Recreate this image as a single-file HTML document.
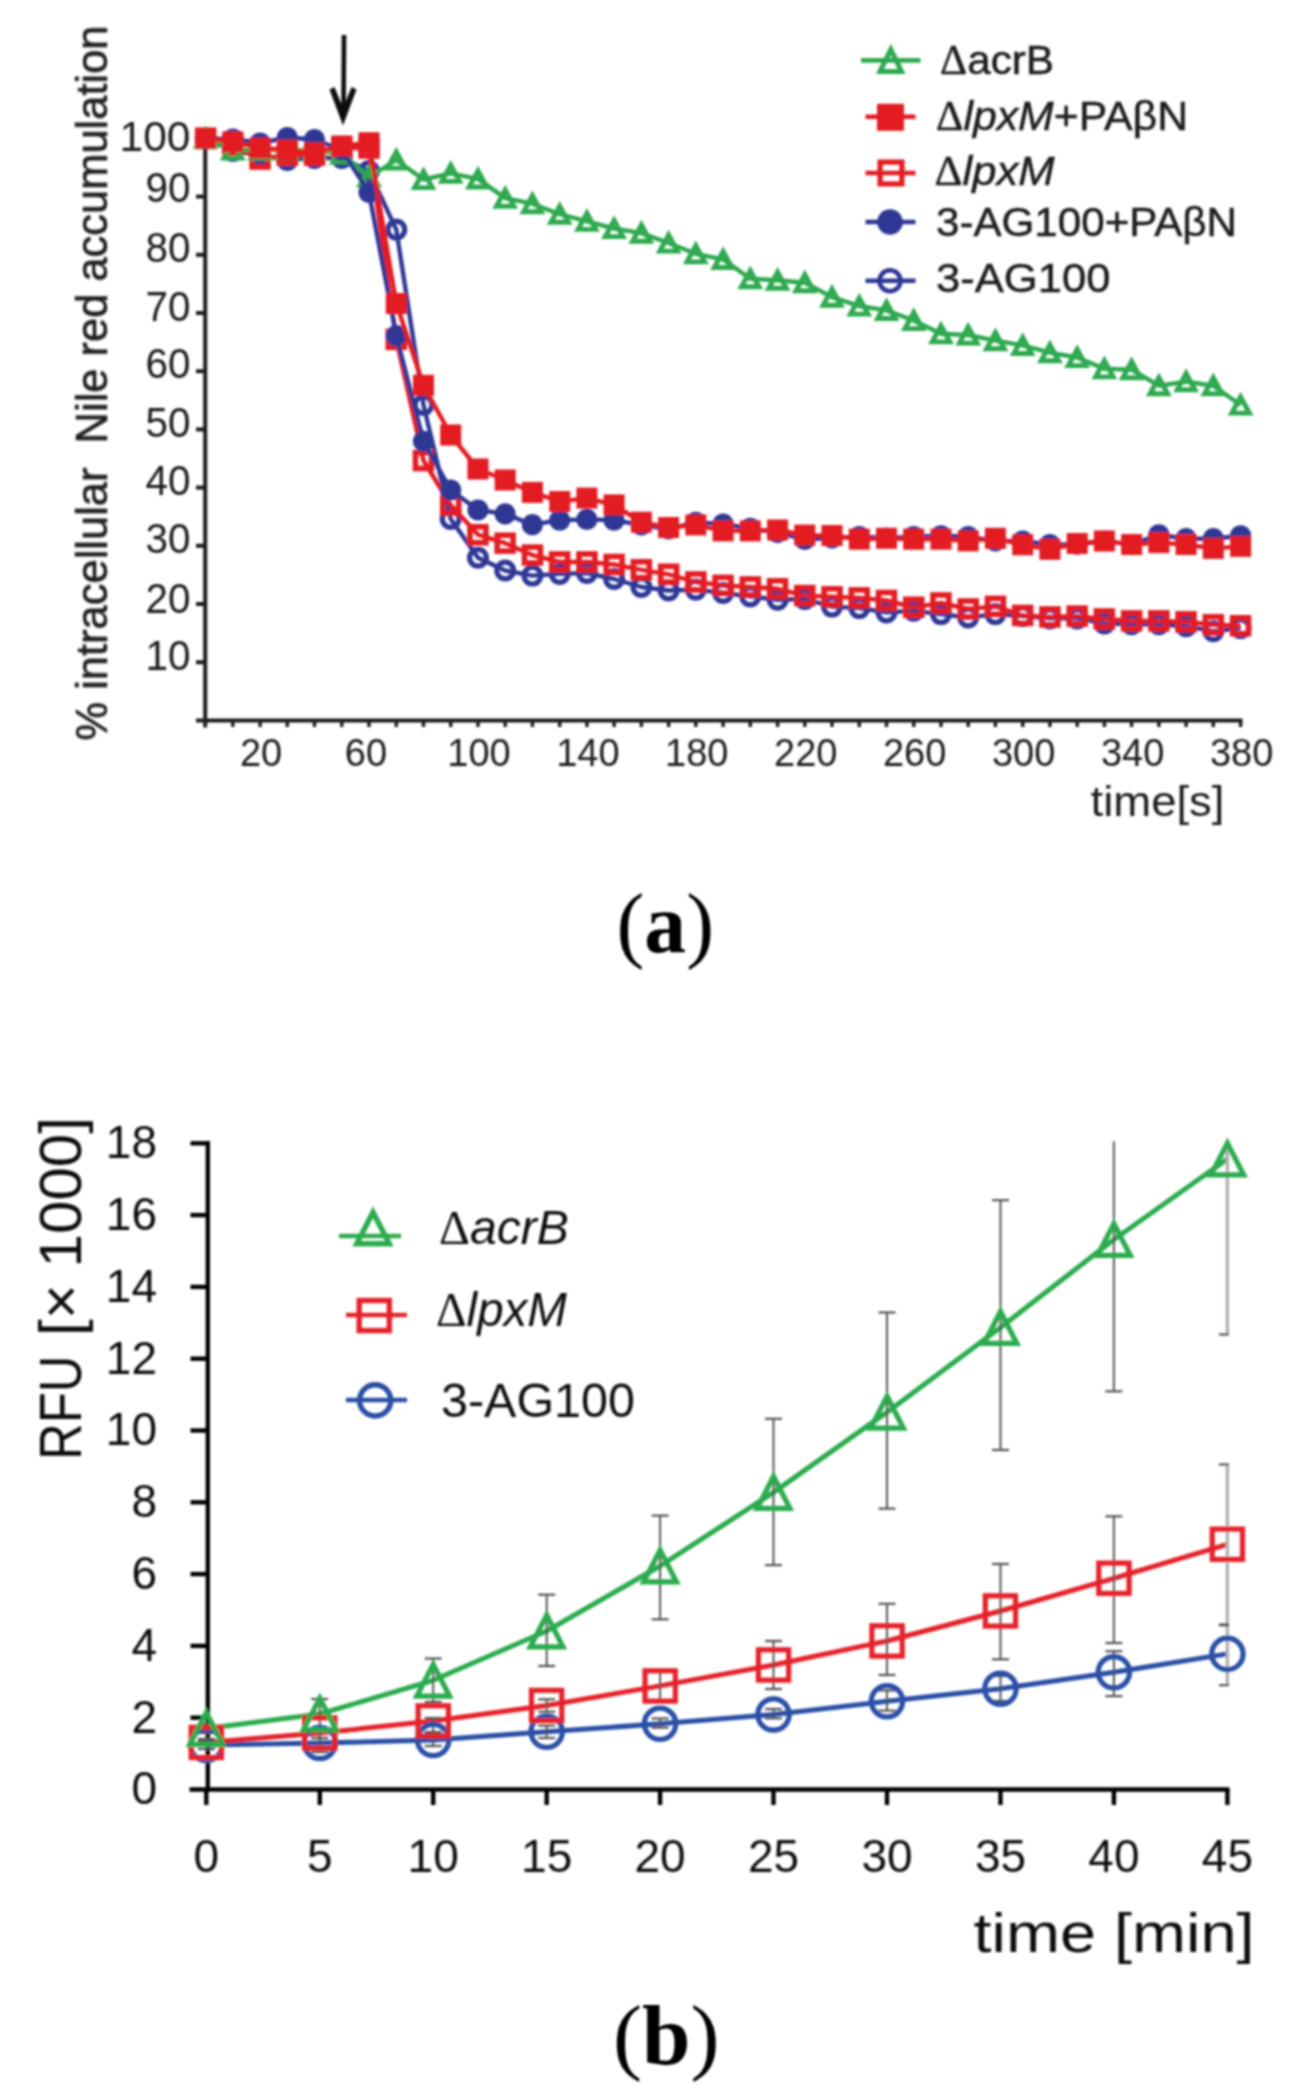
<!DOCTYPE html><html><head><meta charset="utf-8"><style>html,body{margin:0;padding:0;background:#fff;overflow:hidden;}svg{display:block;}</style></head><body>
<svg width="1292" height="2096" viewBox="0 0 1292 2096">
<defs><filter id="bl" x="-2%" y="-2%" width="104%" height="104%"><feGaussianBlur stdDeviation="0.9"/></filter></defs>
<rect width="1292" height="2096" fill="#fff"/>
<g filter="url(#bl)">
<g stroke="#1e1e1e" stroke-width="4" fill="none" stroke-linecap="butt">
<line x1="205.2" y1="136" x2="205.2" y2="727.5"/>
<line x1="196" y1="720.4" x2="1242.4" y2="720.4"/>
<line x1="196" y1="662.2" x2="205" y2="662.2"/>
<line x1="196" y1="604" x2="205" y2="604"/>
<line x1="196" y1="545.8" x2="205" y2="545.8"/>
<line x1="196" y1="487.6" x2="205" y2="487.6"/>
<line x1="196" y1="429.4" x2="205" y2="429.4"/>
<line x1="196" y1="371.2" x2="205" y2="371.2"/>
<line x1="196" y1="313" x2="205" y2="313"/>
<line x1="196" y1="254.8" x2="205" y2="254.8"/>
<line x1="196" y1="196.6" x2="205" y2="196.6"/>
<line x1="196" y1="138.4" x2="205" y2="138.4"/>
<line x1="232.8" y1="720" x2="232.8" y2="727" stroke-width="3.4"/>
<line x1="260.1" y1="720" x2="260.1" y2="727" stroke-width="3.4"/>
<line x1="287.3" y1="720" x2="287.3" y2="727" stroke-width="3.4"/>
<line x1="314.5" y1="720" x2="314.5" y2="727" stroke-width="3.4"/>
<line x1="341.8" y1="720" x2="341.8" y2="727" stroke-width="3.4"/>
<line x1="369" y1="720" x2="369" y2="727" stroke-width="3.4"/>
<line x1="396.3" y1="720" x2="396.3" y2="727" stroke-width="3.4"/>
<line x1="423.5" y1="720" x2="423.5" y2="727" stroke-width="3.4"/>
<line x1="450.7" y1="720" x2="450.7" y2="727" stroke-width="3.4"/>
<line x1="478" y1="720" x2="478" y2="727" stroke-width="3.4"/>
<line x1="505.2" y1="720" x2="505.2" y2="727" stroke-width="3.4"/>
<line x1="532.4" y1="720" x2="532.4" y2="727" stroke-width="3.4"/>
<line x1="559.7" y1="720" x2="559.7" y2="727" stroke-width="3.4"/>
<line x1="586.9" y1="720" x2="586.9" y2="727" stroke-width="3.4"/>
<line x1="614.1" y1="720" x2="614.1" y2="727" stroke-width="3.4"/>
<line x1="641.4" y1="720" x2="641.4" y2="727" stroke-width="3.4"/>
<line x1="668.6" y1="720" x2="668.6" y2="727" stroke-width="3.4"/>
<line x1="695.8" y1="720" x2="695.8" y2="727" stroke-width="3.4"/>
<line x1="723.1" y1="720" x2="723.1" y2="727" stroke-width="3.4"/>
<line x1="750.3" y1="720" x2="750.3" y2="727" stroke-width="3.4"/>
<line x1="777.6" y1="720" x2="777.6" y2="727" stroke-width="3.4"/>
<line x1="804.8" y1="720" x2="804.8" y2="727" stroke-width="3.4"/>
<line x1="832" y1="720" x2="832" y2="727" stroke-width="3.4"/>
<line x1="859.3" y1="720" x2="859.3" y2="727" stroke-width="3.4"/>
<line x1="886.5" y1="720" x2="886.5" y2="727" stroke-width="3.4"/>
<line x1="913.7" y1="720" x2="913.7" y2="727" stroke-width="3.4"/>
<line x1="941" y1="720" x2="941" y2="727" stroke-width="3.4"/>
<line x1="968.2" y1="720" x2="968.2" y2="727" stroke-width="3.4"/>
<line x1="995.4" y1="720" x2="995.4" y2="727" stroke-width="3.4"/>
<line x1="1022.7" y1="720" x2="1022.7" y2="727" stroke-width="3.4"/>
<line x1="1049.9" y1="720" x2="1049.9" y2="727" stroke-width="3.4"/>
<line x1="1077.2" y1="720" x2="1077.2" y2="727" stroke-width="3.4"/>
<line x1="1104.4" y1="720" x2="1104.4" y2="727" stroke-width="3.4"/>
<line x1="1131.6" y1="720" x2="1131.6" y2="727" stroke-width="3.4"/>
<line x1="1158.9" y1="720" x2="1158.9" y2="727" stroke-width="3.4"/>
<line x1="1186.1" y1="720" x2="1186.1" y2="727" stroke-width="3.4"/>
<line x1="1213.3" y1="720" x2="1213.3" y2="727" stroke-width="3.4"/>
<line x1="1240.6" y1="720" x2="1240.6" y2="727" stroke-width="3.4"/>
</g>
<text x="190.5" y="670.2" font-family='"Liberation Sans", sans-serif' font-size="42.5" text-anchor="end" fill="#1e1e1e" textLength="45" lengthAdjust="spacingAndGlyphs">10</text>
<text x="190.5" y="612.7" font-family='"Liberation Sans", sans-serif' font-size="42.5" text-anchor="end" fill="#1e1e1e" textLength="45" lengthAdjust="spacingAndGlyphs">20</text>
<text x="190.5" y="552.8" font-family='"Liberation Sans", sans-serif' font-size="42.5" text-anchor="end" fill="#1e1e1e" textLength="45" lengthAdjust="spacingAndGlyphs">30</text>
<text x="190.5" y="495.3" font-family='"Liberation Sans", sans-serif' font-size="42.5" text-anchor="end" fill="#1e1e1e" textLength="45" lengthAdjust="spacingAndGlyphs">40</text>
<text x="190.5" y="436.5" font-family='"Liberation Sans", sans-serif' font-size="42.5" text-anchor="end" fill="#1e1e1e" textLength="45" lengthAdjust="spacingAndGlyphs">50</text>
<text x="190.5" y="378" font-family='"Liberation Sans", sans-serif' font-size="42.5" text-anchor="end" fill="#1e1e1e" textLength="45" lengthAdjust="spacingAndGlyphs">60</text>
<text x="190.5" y="320.5" font-family='"Liberation Sans", sans-serif' font-size="42.5" text-anchor="end" fill="#1e1e1e" textLength="45" lengthAdjust="spacingAndGlyphs">70</text>
<text x="190.5" y="261.8" font-family='"Liberation Sans", sans-serif' font-size="42.5" text-anchor="end" fill="#1e1e1e" textLength="45" lengthAdjust="spacingAndGlyphs">80</text>
<text x="190.5" y="202.3" font-family='"Liberation Sans", sans-serif' font-size="42.5" text-anchor="end" fill="#1e1e1e" textLength="45" lengthAdjust="spacingAndGlyphs">90</text>
<text x="190.5" y="151.3" font-family='"Liberation Sans", sans-serif' font-size="42.5" text-anchor="end" fill="#1e1e1e" textLength="71" lengthAdjust="spacingAndGlyphs">100</text>
<text x="261.1" y="766" font-family='"Liberation Sans", sans-serif' font-size="38" text-anchor="middle" fill="#1e1e1e" >20</text>
<text x="366" y="766" font-family='"Liberation Sans", sans-serif' font-size="38" text-anchor="middle" fill="#1e1e1e" >60</text>
<text x="479" y="766" font-family='"Liberation Sans", sans-serif' font-size="38" text-anchor="middle" fill="#1e1e1e" >100</text>
<text x="587.9" y="766" font-family='"Liberation Sans", sans-serif' font-size="38" text-anchor="middle" fill="#1e1e1e" >140</text>
<text x="696.8" y="766" font-family='"Liberation Sans", sans-serif' font-size="38" text-anchor="middle" fill="#1e1e1e" >180</text>
<text x="805.8" y="766" font-family='"Liberation Sans", sans-serif' font-size="38" text-anchor="middle" fill="#1e1e1e" >220</text>
<text x="914.7" y="766" font-family='"Liberation Sans", sans-serif' font-size="38" text-anchor="middle" fill="#1e1e1e" >260</text>
<text x="1023.7" y="766" font-family='"Liberation Sans", sans-serif' font-size="38" text-anchor="middle" fill="#1e1e1e" >300</text>
<text x="1132.6" y="766" font-family='"Liberation Sans", sans-serif' font-size="38" text-anchor="middle" fill="#1e1e1e" >340</text>
<text x="1241.6" y="766" font-family='"Liberation Sans", sans-serif' font-size="38" text-anchor="middle" fill="#1e1e1e" >380</text>
<text x="1090.5" y="816" font-family='"Liberation Sans", sans-serif' font-size="42" text-anchor="start" fill="#1e1e1e" textLength="134" lengthAdjust="spacingAndGlyphs">time[s]</text>
<text transform="translate(107,740.5) rotate(-90)" font-family='"Liberation Sans", sans-serif' font-size="44" fill="#1e1e1e" stroke="#1e1e1e" stroke-width="0.6" textLength="715" lengthAdjust="spacingAndGlyphs">% intracellular&#160; Nile red accumulation</text>
<line x1="344" y1="35" x2="343.5" y2="112" stroke="#111" stroke-width="4.6"/>
<path d="M329.5 89.5 L334.5 87 L343 108 L351.5 87 L356.5 89.5 L343 125.5 Z" fill="#111"/>
<polyline points="205.6,138.5 232.8,151 260.1,155 287.3,160 314.5,158 341.8,158 369,171 396.3,229.6 423.5,405 450.7,518.9 478,557.7 505.2,570.5 532.4,575.6 559.7,573.9 586.9,573 614.1,579 641.4,587 668.6,590.5 695.8,589.6 723.1,593 750.3,596.4 777.6,599.8 804.8,599 832,606.6 859.3,608.1 886.5,612.4 913.7,610.7 941,614.1 968.2,617.5 995.4,614.1 1022.7,616.1 1049.9,618.4 1077.2,618.4 1104.4,623.4 1131.6,624.2 1158.9,624.2 1186.1,626.2 1213.3,631.2 1240.6,628.1" fill="none" stroke="#2d3894" stroke-width="4.4" stroke-linejoin="round"/>
<circle cx="205.6" cy="138.5" r="8.4" fill="none" stroke="#2d3894" stroke-width="5.2"/>
<circle cx="232.8" cy="151" r="8.4" fill="none" stroke="#2d3894" stroke-width="5.2"/>
<circle cx="260.1" cy="155" r="8.4" fill="none" stroke="#2d3894" stroke-width="5.2"/>
<circle cx="287.3" cy="160" r="8.4" fill="none" stroke="#2d3894" stroke-width="5.2"/>
<circle cx="314.5" cy="158" r="8.4" fill="none" stroke="#2d3894" stroke-width="5.2"/>
<circle cx="341.8" cy="158" r="8.4" fill="none" stroke="#2d3894" stroke-width="5.2"/>
<circle cx="369" cy="171" r="8.4" fill="none" stroke="#2d3894" stroke-width="5.2"/>
<circle cx="396.3" cy="229.6" r="8.4" fill="none" stroke="#2d3894" stroke-width="5.2"/>
<circle cx="423.5" cy="405" r="8.4" fill="none" stroke="#2d3894" stroke-width="5.2"/>
<circle cx="450.7" cy="518.9" r="8.4" fill="none" stroke="#2d3894" stroke-width="5.2"/>
<circle cx="478" cy="557.7" r="8.4" fill="none" stroke="#2d3894" stroke-width="5.2"/>
<circle cx="505.2" cy="570.5" r="8.4" fill="none" stroke="#2d3894" stroke-width="5.2"/>
<circle cx="532.4" cy="575.6" r="8.4" fill="none" stroke="#2d3894" stroke-width="5.2"/>
<circle cx="559.7" cy="573.9" r="8.4" fill="none" stroke="#2d3894" stroke-width="5.2"/>
<circle cx="586.9" cy="573" r="8.4" fill="none" stroke="#2d3894" stroke-width="5.2"/>
<circle cx="614.1" cy="579" r="8.4" fill="none" stroke="#2d3894" stroke-width="5.2"/>
<circle cx="641.4" cy="587" r="8.4" fill="none" stroke="#2d3894" stroke-width="5.2"/>
<circle cx="668.6" cy="590.5" r="8.4" fill="none" stroke="#2d3894" stroke-width="5.2"/>
<circle cx="695.8" cy="589.6" r="8.4" fill="none" stroke="#2d3894" stroke-width="5.2"/>
<circle cx="723.1" cy="593" r="8.4" fill="none" stroke="#2d3894" stroke-width="5.2"/>
<circle cx="750.3" cy="596.4" r="8.4" fill="none" stroke="#2d3894" stroke-width="5.2"/>
<circle cx="777.6" cy="599.8" r="8.4" fill="none" stroke="#2d3894" stroke-width="5.2"/>
<circle cx="804.8" cy="599" r="8.4" fill="none" stroke="#2d3894" stroke-width="5.2"/>
<circle cx="832" cy="606.6" r="8.4" fill="none" stroke="#2d3894" stroke-width="5.2"/>
<circle cx="859.3" cy="608.1" r="8.4" fill="none" stroke="#2d3894" stroke-width="5.2"/>
<circle cx="886.5" cy="612.4" r="8.4" fill="none" stroke="#2d3894" stroke-width="5.2"/>
<circle cx="913.7" cy="610.7" r="8.4" fill="none" stroke="#2d3894" stroke-width="5.2"/>
<circle cx="941" cy="614.1" r="8.4" fill="none" stroke="#2d3894" stroke-width="5.2"/>
<circle cx="968.2" cy="617.5" r="8.4" fill="none" stroke="#2d3894" stroke-width="5.2"/>
<circle cx="995.4" cy="614.1" r="8.4" fill="none" stroke="#2d3894" stroke-width="5.2"/>
<circle cx="1022.7" cy="616.1" r="8.4" fill="none" stroke="#2d3894" stroke-width="5.2"/>
<circle cx="1049.9" cy="618.4" r="8.4" fill="none" stroke="#2d3894" stroke-width="5.2"/>
<circle cx="1077.2" cy="618.4" r="8.4" fill="none" stroke="#2d3894" stroke-width="5.2"/>
<circle cx="1104.4" cy="623.4" r="8.4" fill="none" stroke="#2d3894" stroke-width="5.2"/>
<circle cx="1131.6" cy="624.2" r="8.4" fill="none" stroke="#2d3894" stroke-width="5.2"/>
<circle cx="1158.9" cy="624.2" r="8.4" fill="none" stroke="#2d3894" stroke-width="5.2"/>
<circle cx="1186.1" cy="626.2" r="8.4" fill="none" stroke="#2d3894" stroke-width="5.2"/>
<circle cx="1213.3" cy="631.2" r="8.4" fill="none" stroke="#2d3894" stroke-width="5.2"/>
<circle cx="1240.6" cy="628.1" r="8.4" fill="none" stroke="#2d3894" stroke-width="5.2"/>
<polyline points="205.6,138.5 232.8,145 260.1,159 287.3,155 314.5,155 341.8,148 369,148 396.3,339.4 423.5,460.5 450.7,505 478,534.7 505.2,543.2 532.4,555.1 559.7,562 586.9,562 614.1,564.5 641.4,569.8 668.6,574.3 695.8,582 723.1,585.4 750.3,587 777.6,588.8 804.8,595.6 832,596.8 859.3,597.9 886.5,600.5 913.7,607.3 941,603 968.2,609 995.4,606.4 1022.7,615.5 1049.9,617 1077.2,616.1 1104.4,619 1131.6,620.9 1158.9,620.9 1186.1,621.9 1213.3,624.8 1240.6,625.8" fill="none" stroke="#e31d23" stroke-width="4.4" stroke-linejoin="round"/>
<rect x="197.7" y="130.6" width="15.9" height="15.9" fill="none" stroke="#e31d23" stroke-width="5.6"/>
<rect x="224.9" y="137.1" width="15.9" height="15.9" fill="none" stroke="#e31d23" stroke-width="5.6"/>
<rect x="252.1" y="151.1" width="15.9" height="15.9" fill="none" stroke="#e31d23" stroke-width="5.6"/>
<rect x="279.4" y="147.1" width="15.9" height="15.9" fill="none" stroke="#e31d23" stroke-width="5.6"/>
<rect x="306.6" y="147.1" width="15.9" height="15.9" fill="none" stroke="#e31d23" stroke-width="5.6"/>
<rect x="333.8" y="140.1" width="15.9" height="15.9" fill="none" stroke="#e31d23" stroke-width="5.6"/>
<rect x="361.1" y="140.1" width="15.9" height="15.9" fill="none" stroke="#e31d23" stroke-width="5.6"/>
<rect x="388.3" y="331.4" width="15.9" height="15.9" fill="none" stroke="#e31d23" stroke-width="5.6"/>
<rect x="415.5" y="452.6" width="15.9" height="15.9" fill="none" stroke="#e31d23" stroke-width="5.6"/>
<rect x="442.8" y="497.1" width="15.9" height="15.9" fill="none" stroke="#e31d23" stroke-width="5.6"/>
<rect x="470" y="526.8" width="15.9" height="15.9" fill="none" stroke="#e31d23" stroke-width="5.6"/>
<rect x="497.2" y="535.2" width="15.9" height="15.9" fill="none" stroke="#e31d23" stroke-width="5.6"/>
<rect x="524.5" y="547.1" width="15.9" height="15.9" fill="none" stroke="#e31d23" stroke-width="5.6"/>
<rect x="551.7" y="554" width="15.9" height="15.9" fill="none" stroke="#e31d23" stroke-width="5.6"/>
<rect x="579" y="554" width="15.9" height="15.9" fill="none" stroke="#e31d23" stroke-width="5.6"/>
<rect x="606.2" y="556.5" width="15.9" height="15.9" fill="none" stroke="#e31d23" stroke-width="5.6"/>
<rect x="633.4" y="561.8" width="15.9" height="15.9" fill="none" stroke="#e31d23" stroke-width="5.6"/>
<rect x="660.7" y="566.3" width="15.9" height="15.9" fill="none" stroke="#e31d23" stroke-width="5.6"/>
<rect x="687.9" y="574" width="15.9" height="15.9" fill="none" stroke="#e31d23" stroke-width="5.6"/>
<rect x="715.1" y="577.4" width="15.9" height="15.9" fill="none" stroke="#e31d23" stroke-width="5.6"/>
<rect x="742.4" y="579" width="15.9" height="15.9" fill="none" stroke="#e31d23" stroke-width="5.6"/>
<rect x="769.6" y="580.8" width="15.9" height="15.9" fill="none" stroke="#e31d23" stroke-width="5.6"/>
<rect x="796.8" y="587.6" width="15.9" height="15.9" fill="none" stroke="#e31d23" stroke-width="5.6"/>
<rect x="824.1" y="588.8" width="15.9" height="15.9" fill="none" stroke="#e31d23" stroke-width="5.6"/>
<rect x="851.3" y="589.9" width="15.9" height="15.9" fill="none" stroke="#e31d23" stroke-width="5.6"/>
<rect x="878.5" y="592.5" width="15.9" height="15.9" fill="none" stroke="#e31d23" stroke-width="5.6"/>
<rect x="905.8" y="599.3" width="15.9" height="15.9" fill="none" stroke="#e31d23" stroke-width="5.6"/>
<rect x="933" y="595" width="15.9" height="15.9" fill="none" stroke="#e31d23" stroke-width="5.6"/>
<rect x="960.3" y="601" width="15.9" height="15.9" fill="none" stroke="#e31d23" stroke-width="5.6"/>
<rect x="987.5" y="598.4" width="15.9" height="15.9" fill="none" stroke="#e31d23" stroke-width="5.6"/>
<rect x="1014.7" y="607.5" width="15.9" height="15.9" fill="none" stroke="#e31d23" stroke-width="5.6"/>
<rect x="1042" y="609" width="15.9" height="15.9" fill="none" stroke="#e31d23" stroke-width="5.6"/>
<rect x="1069.2" y="608.1" width="15.9" height="15.9" fill="none" stroke="#e31d23" stroke-width="5.6"/>
<rect x="1096.4" y="611" width="15.9" height="15.9" fill="none" stroke="#e31d23" stroke-width="5.6"/>
<rect x="1123.7" y="612.9" width="15.9" height="15.9" fill="none" stroke="#e31d23" stroke-width="5.6"/>
<rect x="1150.9" y="612.9" width="15.9" height="15.9" fill="none" stroke="#e31d23" stroke-width="5.6"/>
<rect x="1178.1" y="613.9" width="15.9" height="15.9" fill="none" stroke="#e31d23" stroke-width="5.6"/>
<rect x="1205.4" y="616.8" width="15.9" height="15.9" fill="none" stroke="#e31d23" stroke-width="5.6"/>
<rect x="1232.6" y="617.8" width="15.9" height="15.9" fill="none" stroke="#e31d23" stroke-width="5.6"/>
<polyline points="205.6,138.5 232.8,150 260.1,150 287.3,150 314.5,150 341.8,154 369,177 396.3,160 423.5,179.5 450.7,173.3 478,178.9 505.2,198.1 532.4,203.7 559.7,214.2 586.9,221.3 614.1,228.5 641.4,233.1 668.6,243 695.8,253.8 723.1,259.4 750.3,278.7 777.6,280.2 804.8,282.7 832,297.1 859.3,306 886.5,310.4 913.7,320.5 941,333.8 968.2,335 995.4,340.6 1022.7,345.4 1049.9,352.7 1077.2,357.5 1104.4,368.8 1131.6,369.6 1158.9,385.7 1186.1,381.6 1213.3,385.7 1240.6,405" fill="none" stroke="#2ea94f" stroke-width="4.4" stroke-linejoin="round"/>
<path d="M205.6 130.4L214.4 146.6L196.8 146.6Z" fill="none" stroke="#2ea94f" stroke-width="4.9" stroke-linejoin="miter"/>
<path d="M232.8 141.9L241.6 158.1L224 158.1Z" fill="none" stroke="#2ea94f" stroke-width="4.9" stroke-linejoin="miter"/>
<path d="M260.1 141.9L268.9 158.1L251.3 158.1Z" fill="none" stroke="#2ea94f" stroke-width="4.9" stroke-linejoin="miter"/>
<path d="M287.3 141.9L296.1 158.1L278.5 158.1Z" fill="none" stroke="#2ea94f" stroke-width="4.9" stroke-linejoin="miter"/>
<path d="M314.5 141.9L323.4 158.1L305.7 158.1Z" fill="none" stroke="#2ea94f" stroke-width="4.9" stroke-linejoin="miter"/>
<path d="M341.8 145.9L350.6 162.1L333 162.1Z" fill="none" stroke="#2ea94f" stroke-width="4.9" stroke-linejoin="miter"/>
<path d="M369 168.9L377.8 185.1L360.2 185.1Z" fill="none" stroke="#2ea94f" stroke-width="4.9" stroke-linejoin="miter"/>
<path d="M396.3 151.9L405.1 168.1L387.4 168.1Z" fill="none" stroke="#2ea94f" stroke-width="4.9" stroke-linejoin="miter"/>
<path d="M423.5 171.4L432.3 187.6L414.7 187.6Z" fill="none" stroke="#2ea94f" stroke-width="4.9" stroke-linejoin="miter"/>
<path d="M450.7 165.2L459.5 181.4L441.9 181.4Z" fill="none" stroke="#2ea94f" stroke-width="4.9" stroke-linejoin="miter"/>
<path d="M478 170.8L486.8 187L469.1 187Z" fill="none" stroke="#2ea94f" stroke-width="4.9" stroke-linejoin="miter"/>
<path d="M505.2 190L514 206.2L496.4 206.2Z" fill="none" stroke="#2ea94f" stroke-width="4.9" stroke-linejoin="miter"/>
<path d="M532.4 195.6L541.2 211.8L523.6 211.8Z" fill="none" stroke="#2ea94f" stroke-width="4.9" stroke-linejoin="miter"/>
<path d="M559.7 206.1L568.5 222.3L550.9 222.3Z" fill="none" stroke="#2ea94f" stroke-width="4.9" stroke-linejoin="miter"/>
<path d="M586.9 213.2L595.7 229.4L578.1 229.4Z" fill="none" stroke="#2ea94f" stroke-width="4.9" stroke-linejoin="miter"/>
<path d="M614.1 220.4L622.9 236.6L605.3 236.6Z" fill="none" stroke="#2ea94f" stroke-width="4.9" stroke-linejoin="miter"/>
<path d="M641.4 225L650.2 241.2L632.6 241.2Z" fill="none" stroke="#2ea94f" stroke-width="4.9" stroke-linejoin="miter"/>
<path d="M668.6 234.9L677.4 251.1L659.8 251.1Z" fill="none" stroke="#2ea94f" stroke-width="4.9" stroke-linejoin="miter"/>
<path d="M695.8 245.7L704.7 261.9L687 261.9Z" fill="none" stroke="#2ea94f" stroke-width="4.9" stroke-linejoin="miter"/>
<path d="M723.1 251.3L731.9 267.5L714.3 267.5Z" fill="none" stroke="#2ea94f" stroke-width="4.9" stroke-linejoin="miter"/>
<path d="M750.3 270.6L759.1 286.8L741.5 286.8Z" fill="none" stroke="#2ea94f" stroke-width="4.9" stroke-linejoin="miter"/>
<path d="M777.6 272.1L786.4 288.3L768.7 288.3Z" fill="none" stroke="#2ea94f" stroke-width="4.9" stroke-linejoin="miter"/>
<path d="M804.8 274.6L813.6 290.8L796 290.8Z" fill="none" stroke="#2ea94f" stroke-width="4.9" stroke-linejoin="miter"/>
<path d="M832 289L840.8 305.2L823.2 305.2Z" fill="none" stroke="#2ea94f" stroke-width="4.9" stroke-linejoin="miter"/>
<path d="M859.3 297.9L868.1 314.1L850.5 314.1Z" fill="none" stroke="#2ea94f" stroke-width="4.9" stroke-linejoin="miter"/>
<path d="M886.5 302.3L895.3 318.5L877.7 318.5Z" fill="none" stroke="#2ea94f" stroke-width="4.9" stroke-linejoin="miter"/>
<path d="M913.7 312.4L922.5 328.6L904.9 328.6Z" fill="none" stroke="#2ea94f" stroke-width="4.9" stroke-linejoin="miter"/>
<path d="M941 325.7L949.8 341.9L932.2 341.9Z" fill="none" stroke="#2ea94f" stroke-width="4.9" stroke-linejoin="miter"/>
<path d="M968.2 326.9L977 343.1L959.4 343.1Z" fill="none" stroke="#2ea94f" stroke-width="4.9" stroke-linejoin="miter"/>
<path d="M995.4 332.5L1004.3 348.7L986.6 348.7Z" fill="none" stroke="#2ea94f" stroke-width="4.9" stroke-linejoin="miter"/>
<path d="M1022.7 337.3L1031.5 353.5L1013.9 353.5Z" fill="none" stroke="#2ea94f" stroke-width="4.9" stroke-linejoin="miter"/>
<path d="M1049.9 344.6L1058.7 360.8L1041.1 360.8Z" fill="none" stroke="#2ea94f" stroke-width="4.9" stroke-linejoin="miter"/>
<path d="M1077.2 349.4L1086 365.6L1068.3 365.6Z" fill="none" stroke="#2ea94f" stroke-width="4.9" stroke-linejoin="miter"/>
<path d="M1104.4 360.7L1113.2 376.9L1095.6 376.9Z" fill="none" stroke="#2ea94f" stroke-width="4.9" stroke-linejoin="miter"/>
<path d="M1131.6 361.5L1140.4 377.7L1122.8 377.7Z" fill="none" stroke="#2ea94f" stroke-width="4.9" stroke-linejoin="miter"/>
<path d="M1158.9 377.6L1167.7 393.8L1150 393.8Z" fill="none" stroke="#2ea94f" stroke-width="4.9" stroke-linejoin="miter"/>
<path d="M1186.1 373.5L1194.9 389.7L1177.3 389.7Z" fill="none" stroke="#2ea94f" stroke-width="4.9" stroke-linejoin="miter"/>
<path d="M1213.3 377.6L1222.1 393.8L1204.5 393.8Z" fill="none" stroke="#2ea94f" stroke-width="4.9" stroke-linejoin="miter"/>
<path d="M1240.6 396.9L1249.4 413.1L1231.8 413.1Z" fill="none" stroke="#2ea94f" stroke-width="4.9" stroke-linejoin="miter"/>
<polyline points="205.6,138.5 232.8,139 260.1,143 287.3,137.5 314.5,139.5 341.8,150 369,192.5 396.3,335.7 423.5,441.3 450.7,490 478,510 505.2,513.9 532.4,524.7 559.7,520.2 586.9,519.4 614.1,520.2 641.4,525 668.6,529 695.8,522.4 723.1,524 750.3,528.3 777.6,532.6 804.8,539.4 832,538 859.3,536.6 886.5,538 913.7,536.6 941,535.8 968.2,536.6 995.4,540.9 1022.7,541 1049.9,544.5 1077.2,544.5 1104.4,541 1131.6,544.5 1158.9,534.8 1186.1,538.7 1213.3,538.7 1240.6,535.8" fill="none" stroke="#2d3894" stroke-width="4.4" stroke-linejoin="round"/>
<circle cx="205.6" cy="138.5" r="10.6" fill="#2d3894"/>
<circle cx="232.8" cy="139" r="10.6" fill="#2d3894"/>
<circle cx="260.1" cy="143" r="10.6" fill="#2d3894"/>
<circle cx="287.3" cy="137.5" r="10.6" fill="#2d3894"/>
<circle cx="314.5" cy="139.5" r="10.6" fill="#2d3894"/>
<circle cx="341.8" cy="150" r="10.6" fill="#2d3894"/>
<circle cx="369" cy="192.5" r="10.6" fill="#2d3894"/>
<circle cx="396.3" cy="335.7" r="10.6" fill="#2d3894"/>
<circle cx="423.5" cy="441.3" r="10.6" fill="#2d3894"/>
<circle cx="450.7" cy="490" r="10.6" fill="#2d3894"/>
<circle cx="478" cy="510" r="10.6" fill="#2d3894"/>
<circle cx="505.2" cy="513.9" r="10.6" fill="#2d3894"/>
<circle cx="532.4" cy="524.7" r="10.6" fill="#2d3894"/>
<circle cx="559.7" cy="520.2" r="10.6" fill="#2d3894"/>
<circle cx="586.9" cy="519.4" r="10.6" fill="#2d3894"/>
<circle cx="614.1" cy="520.2" r="10.6" fill="#2d3894"/>
<circle cx="641.4" cy="525" r="10.6" fill="#2d3894"/>
<circle cx="668.6" cy="529" r="10.6" fill="#2d3894"/>
<circle cx="695.8" cy="522.4" r="10.6" fill="#2d3894"/>
<circle cx="723.1" cy="524" r="10.6" fill="#2d3894"/>
<circle cx="750.3" cy="528.3" r="10.6" fill="#2d3894"/>
<circle cx="777.6" cy="532.6" r="10.6" fill="#2d3894"/>
<circle cx="804.8" cy="539.4" r="10.6" fill="#2d3894"/>
<circle cx="832" cy="538" r="10.6" fill="#2d3894"/>
<circle cx="859.3" cy="536.6" r="10.6" fill="#2d3894"/>
<circle cx="886.5" cy="538" r="10.6" fill="#2d3894"/>
<circle cx="913.7" cy="536.6" r="10.6" fill="#2d3894"/>
<circle cx="941" cy="535.8" r="10.6" fill="#2d3894"/>
<circle cx="968.2" cy="536.6" r="10.6" fill="#2d3894"/>
<circle cx="995.4" cy="540.9" r="10.6" fill="#2d3894"/>
<circle cx="1022.7" cy="541" r="10.6" fill="#2d3894"/>
<circle cx="1049.9" cy="544.5" r="10.6" fill="#2d3894"/>
<circle cx="1077.2" cy="544.5" r="10.6" fill="#2d3894"/>
<circle cx="1104.4" cy="541" r="10.6" fill="#2d3894"/>
<circle cx="1131.6" cy="544.5" r="10.6" fill="#2d3894"/>
<circle cx="1158.9" cy="534.8" r="10.6" fill="#2d3894"/>
<circle cx="1186.1" cy="538.7" r="10.6" fill="#2d3894"/>
<circle cx="1213.3" cy="538.7" r="10.6" fill="#2d3894"/>
<circle cx="1240.6" cy="535.8" r="10.6" fill="#2d3894"/>
<polyline points="205.6,138 232.8,141.8 260.1,148 287.3,150 314.5,152.8 341.8,146 369,142.7 396.3,303.5 423.5,385.3 450.7,435 478,469 505.2,480 532.4,492.4 559.7,501.5 586.9,498.1 614.1,504.9 641.4,522.2 668.6,527.5 695.8,524.9 723.1,530.9 750.3,530.9 777.6,530 804.8,535.1 832,535.5 859.3,539.2 886.5,538.3 913.7,539.2 941,539.2 968.2,540.9 995.4,538.3 1022.7,544.8 1049.9,549.3 1077.2,543.5 1104.4,541 1131.6,544.5 1158.9,542.6 1186.1,544.5 1213.3,548.4 1240.6,546.4" fill="none" stroke="#e31d23" stroke-width="4.4" stroke-linejoin="round"/>
<rect x="195.1" y="127.5" width="21" height="21" fill="#e31d23"/>
<rect x="222.3" y="131.3" width="21" height="21" fill="#e31d23"/>
<rect x="249.6" y="137.5" width="21" height="21" fill="#e31d23"/>
<rect x="276.8" y="139.5" width="21" height="21" fill="#e31d23"/>
<rect x="304" y="142.3" width="21" height="21" fill="#e31d23"/>
<rect x="331.3" y="135.5" width="21" height="21" fill="#e31d23"/>
<rect x="358.5" y="132.2" width="21" height="21" fill="#e31d23"/>
<rect x="385.8" y="293" width="21" height="21" fill="#e31d23"/>
<rect x="413" y="374.8" width="21" height="21" fill="#e31d23"/>
<rect x="440.2" y="424.5" width="21" height="21" fill="#e31d23"/>
<rect x="467.5" y="458.5" width="21" height="21" fill="#e31d23"/>
<rect x="494.7" y="469.5" width="21" height="21" fill="#e31d23"/>
<rect x="521.9" y="481.9" width="21" height="21" fill="#e31d23"/>
<rect x="549.2" y="491" width="21" height="21" fill="#e31d23"/>
<rect x="576.4" y="487.6" width="21" height="21" fill="#e31d23"/>
<rect x="603.6" y="494.4" width="21" height="21" fill="#e31d23"/>
<rect x="630.9" y="511.7" width="21" height="21" fill="#e31d23"/>
<rect x="658.1" y="517" width="21" height="21" fill="#e31d23"/>
<rect x="685.3" y="514.4" width="21" height="21" fill="#e31d23"/>
<rect x="712.6" y="520.4" width="21" height="21" fill="#e31d23"/>
<rect x="739.8" y="520.4" width="21" height="21" fill="#e31d23"/>
<rect x="767.1" y="519.5" width="21" height="21" fill="#e31d23"/>
<rect x="794.3" y="524.6" width="21" height="21" fill="#e31d23"/>
<rect x="821.5" y="525" width="21" height="21" fill="#e31d23"/>
<rect x="848.8" y="528.7" width="21" height="21" fill="#e31d23"/>
<rect x="876" y="527.8" width="21" height="21" fill="#e31d23"/>
<rect x="903.2" y="528.7" width="21" height="21" fill="#e31d23"/>
<rect x="930.5" y="528.7" width="21" height="21" fill="#e31d23"/>
<rect x="957.7" y="530.4" width="21" height="21" fill="#e31d23"/>
<rect x="984.9" y="527.8" width="21" height="21" fill="#e31d23"/>
<rect x="1012.2" y="534.3" width="21" height="21" fill="#e31d23"/>
<rect x="1039.4" y="538.8" width="21" height="21" fill="#e31d23"/>
<rect x="1066.7" y="533" width="21" height="21" fill="#e31d23"/>
<rect x="1093.9" y="530.5" width="21" height="21" fill="#e31d23"/>
<rect x="1121.1" y="534" width="21" height="21" fill="#e31d23"/>
<rect x="1148.4" y="532.1" width="21" height="21" fill="#e31d23"/>
<rect x="1175.6" y="534" width="21" height="21" fill="#e31d23"/>
<rect x="1202.8" y="537.9" width="21" height="21" fill="#e31d23"/>
<rect x="1230.1" y="535.9" width="21" height="21" fill="#e31d23"/>
<line x1="861" y1="60.4" x2="920.5" y2="60.4" stroke="#2ea94f" stroke-width="4.6"/>
<path d="M890.8 49.4L901.5 71.4L880 71.4Z" fill="none" stroke="#2ea94f" stroke-width="5" stroke-linejoin="miter"/>
<text x="940" y="73.5" font-family='"Liberation Sans", sans-serif' font-size="41.5" text-anchor="start" fill="#1e1e1e" textLength="114" lengthAdjust="spacingAndGlyphs" stroke="#1e1e1e" stroke-width="0.5"><tspan font-family="Liberation Serif">&#916;</tspan>acrB</text>
<line x1="865.5" y1="116.8" x2="915.5" y2="116.8" stroke="#e31d23" stroke-width="4.6"/>
<rect x="877" y="103.8" width="27" height="27" fill="#e31d23"/>
<text x="936" y="129.7" font-family='"Liberation Sans", sans-serif' font-size="41.5" text-anchor="start" fill="#1e1e1e" textLength="252" lengthAdjust="spacingAndGlyphs" stroke="#1e1e1e" stroke-width="0.5"><tspan font-family="Liberation Serif">&#916;</tspan><tspan font-style="italic">lpxM</tspan>+PA&#946;N</text>
<line x1="865.5" y1="173" x2="915.5" y2="173" stroke="#e31d23" stroke-width="4.6"/>
<rect x="880.1" y="162.1" width="21.8" height="21.8" fill="none" stroke="#e31d23" stroke-width="5.2"/>
<text x="934.5" y="184.8" font-family='"Liberation Sans", sans-serif' font-size="41.5" text-anchor="start" fill="#1e1e1e" textLength="120" lengthAdjust="spacingAndGlyphs" stroke="#1e1e1e" stroke-width="0.5"><tspan font-family="Liberation Serif">&#916;</tspan><tspan font-style="italic">lpxM</tspan></text>
<line x1="865.5" y1="222" x2="915.5" y2="222" stroke="#2d3894" stroke-width="4.6"/>
<circle cx="890" cy="222" r="12.8" fill="#2d3894"/>
<text x="936" y="235.7" font-family='"Liberation Sans", sans-serif' font-size="41.5" text-anchor="start" fill="#1e1e1e" textLength="301" lengthAdjust="spacingAndGlyphs" stroke="#1e1e1e" stroke-width="0.5">3-AG100+PA&#946;N</text>
<line x1="865.5" y1="280.8" x2="915.5" y2="280.8" stroke="#2d3894" stroke-width="4.6"/>
<circle cx="890" cy="280.8" r="10.5" fill="none" stroke="#2d3894" stroke-width="4.6"/>
<text x="936" y="292" font-family='"Liberation Sans", sans-serif' font-size="41.5" text-anchor="start" fill="#1e1e1e" textLength="174.5" lengthAdjust="spacingAndGlyphs" stroke="#1e1e1e" stroke-width="0.5">3-AG100</text>
<text x="616.5" y="951.5" font-family='"Liberation Serif", serif' font-size="85" fill="#000" textLength="97.5" lengthAdjust="spacingAndGlyphs">(<tspan font-weight="bold">a</tspan>)</text>
<g stroke="#000" stroke-width="4.4" fill="none">
<line x1="207.8" y1="1141" x2="207.8" y2="1791.5"/>
<line x1="189.5" y1="1789.5" x2="1229.5" y2="1789.5"/>
<line x1="190.5" y1="1717.7" x2="208" y2="1717.7"/>
<line x1="190.5" y1="1645.9" x2="208" y2="1645.9"/>
<line x1="190.5" y1="1574.1" x2="208" y2="1574.1"/>
<line x1="190.5" y1="1502.3" x2="208" y2="1502.3"/>
<line x1="190.5" y1="1430.5" x2="208" y2="1430.5"/>
<line x1="190.5" y1="1358.7" x2="208" y2="1358.7"/>
<line x1="190.5" y1="1286.9" x2="208" y2="1286.9"/>
<line x1="190.5" y1="1215.1" x2="208" y2="1215.1"/>
<line x1="190.5" y1="1143.3" x2="208" y2="1143.3"/>
<line x1="206.3" y1="1789" x2="206.3" y2="1805" />
<line x1="319.8" y1="1789" x2="319.8" y2="1805" />
<line x1="433.2" y1="1789" x2="433.2" y2="1805" />
<line x1="546.7" y1="1789" x2="546.7" y2="1805" />
<line x1="660.1" y1="1789" x2="660.1" y2="1805" />
<line x1="773.5" y1="1789" x2="773.5" y2="1805" />
<line x1="887" y1="1789" x2="887" y2="1805" />
<line x1="1000.5" y1="1789" x2="1000.5" y2="1805" />
<line x1="1113.9" y1="1789" x2="1113.9" y2="1805" />
<line x1="1227.4" y1="1789" x2="1227.4" y2="1805" />
</g>
<text x="157" y="1804.3" font-family='"Liberation Sans", sans-serif' font-size="46" text-anchor="end" fill="#111" >0</text>
<text x="157" y="1732.5" font-family='"Liberation Sans", sans-serif' font-size="46" text-anchor="end" fill="#111" >2</text>
<text x="157" y="1660.7" font-family='"Liberation Sans", sans-serif' font-size="46" text-anchor="end" fill="#111" >4</text>
<text x="157" y="1588.9" font-family='"Liberation Sans", sans-serif' font-size="46" text-anchor="end" fill="#111" >6</text>
<text x="157" y="1517.1" font-family='"Liberation Sans", sans-serif' font-size="46" text-anchor="end" fill="#111" >8</text>
<text x="157" y="1445.3" font-family='"Liberation Sans", sans-serif' font-size="46" text-anchor="end" fill="#111" >10</text>
<text x="157" y="1373.5" font-family='"Liberation Sans", sans-serif' font-size="46" text-anchor="end" fill="#111" >12</text>
<text x="157" y="1301.7" font-family='"Liberation Sans", sans-serif' font-size="46" text-anchor="end" fill="#111" >14</text>
<text x="157" y="1229.9" font-family='"Liberation Sans", sans-serif' font-size="46" text-anchor="end" fill="#111" >16</text>
<text x="157" y="1158.1" font-family='"Liberation Sans", sans-serif' font-size="46" text-anchor="end" fill="#111" >18</text>
<text x="206.3" y="1872" font-family='"Liberation Sans", sans-serif' font-size="46" text-anchor="middle" fill="#111" >0</text>
<text x="319.8" y="1872" font-family='"Liberation Sans", sans-serif' font-size="46" text-anchor="middle" fill="#111" >5</text>
<text x="433.2" y="1872" font-family='"Liberation Sans", sans-serif' font-size="46" text-anchor="middle" fill="#111" >10</text>
<text x="546.7" y="1872" font-family='"Liberation Sans", sans-serif' font-size="46" text-anchor="middle" fill="#111" >15</text>
<text x="660.1" y="1872" font-family='"Liberation Sans", sans-serif' font-size="46" text-anchor="middle" fill="#111" >20</text>
<text x="773.5" y="1872" font-family='"Liberation Sans", sans-serif' font-size="46" text-anchor="middle" fill="#111" >25</text>
<text x="887" y="1872" font-family='"Liberation Sans", sans-serif' font-size="46" text-anchor="middle" fill="#111" >30</text>
<text x="1000.5" y="1872" font-family='"Liberation Sans", sans-serif' font-size="46" text-anchor="middle" fill="#111" >35</text>
<text x="1113.9" y="1872" font-family='"Liberation Sans", sans-serif' font-size="46" text-anchor="middle" fill="#111" >40</text>
<text x="1227.4" y="1872" font-family='"Liberation Sans", sans-serif' font-size="46" text-anchor="middle" fill="#111" >45</text>
<text x="973.5" y="1951.5" font-family='"Liberation Sans", sans-serif' font-size="56" text-anchor="start" fill="#111" textLength="281" lengthAdjust="spacingAndGlyphs">time [min]</text>
<text transform="translate(81,1460) rotate(-90)" font-family='"Liberation Sans", sans-serif' font-size="59" fill="#111" textLength="104.5" lengthAdjust="spacingAndGlyphs">RFU</text>
<text transform="translate(81,1336) rotate(-90)" font-family='"Liberation Sans", sans-serif' font-size="59" fill="#111" textLength="219" lengthAdjust="spacingAndGlyphs">[&#215; 1000]</text>
<polyline points="206.3,1745 319.8,1743 433.2,1740 546.7,1731.8 660.1,1723.8 773.5,1714.5 887,1701.3 1000.5,1688.7 1113.9,1672.3 1227.4,1653.9" fill="none" stroke="#2a50a6" stroke-width="5.0" stroke-linejoin="round"/>
<polyline points="206.3,1742.5 319.8,1733 433.2,1721 546.7,1705.5 660.1,1685.9 773.5,1665 887,1641 1000.5,1611 1113.9,1578.3 1227.4,1544.3" fill="none" stroke="#e5202a" stroke-width="5.0" stroke-linejoin="round"/>
<polyline points="206.3,1728.5 319.8,1714 433.2,1680.3 546.7,1631 660.1,1566 773.5,1492.4 887,1412.2 1000.5,1327.4 1113.9,1239.5 1227.4,1159" fill="none" stroke="#2cab4e" stroke-width="5.0" stroke-linejoin="round"/>
<line x1="206.3" y1="1741" x2="206.3" y2="1749" stroke="#555" stroke-width="2.0"/><line x1="197.8" y1="1741" x2="214.8" y2="1741" stroke="#555" stroke-width="2.2"/><line x1="197.8" y1="1749" x2="214.8" y2="1749" stroke="#555" stroke-width="2.2"/>
<line x1="206.3" y1="1739" x2="206.3" y2="1746" stroke="#555" stroke-width="2.0"/><line x1="197.8" y1="1739" x2="214.8" y2="1739" stroke="#555" stroke-width="2.2"/><line x1="197.8" y1="1746" x2="214.8" y2="1746" stroke="#555" stroke-width="2.2"/>
<line x1="206.3" y1="1724" x2="206.3" y2="1733" stroke="#555" stroke-width="2.0"/><line x1="197.8" y1="1724" x2="214.8" y2="1724" stroke="#555" stroke-width="2.2"/><line x1="197.8" y1="1733" x2="214.8" y2="1733" stroke="#555" stroke-width="2.2"/>
<line x1="319.8" y1="1738" x2="319.8" y2="1752" stroke="#555" stroke-width="2.0"/><line x1="311.2" y1="1738" x2="328.2" y2="1738" stroke="#555" stroke-width="2.2"/><line x1="311.2" y1="1752" x2="328.2" y2="1752" stroke="#555" stroke-width="2.2"/>
<line x1="319.8" y1="1728" x2="319.8" y2="1738" stroke="#555" stroke-width="2.0"/><line x1="311.2" y1="1728" x2="328.2" y2="1728" stroke="#555" stroke-width="2.2"/><line x1="311.2" y1="1738" x2="328.2" y2="1738" stroke="#555" stroke-width="2.2"/>
<line x1="319.8" y1="1699" x2="319.8" y2="1729" stroke="#555" stroke-width="2.0"/><line x1="311.2" y1="1699" x2="328.2" y2="1699" stroke="#555" stroke-width="2.2"/><line x1="311.2" y1="1729" x2="328.2" y2="1729" stroke="#555" stroke-width="2.2"/>
<line x1="433.2" y1="1733" x2="433.2" y2="1746" stroke="#555" stroke-width="2.0"/><line x1="424.7" y1="1733" x2="441.7" y2="1733" stroke="#555" stroke-width="2.2"/><line x1="424.7" y1="1746" x2="441.7" y2="1746" stroke="#555" stroke-width="2.2"/>
<line x1="433.2" y1="1718" x2="433.2" y2="1732" stroke="#555" stroke-width="2.0"/><line x1="424.7" y1="1718" x2="441.7" y2="1718" stroke="#555" stroke-width="2.2"/><line x1="424.7" y1="1732" x2="441.7" y2="1732" stroke="#555" stroke-width="2.2"/>
<line x1="433.2" y1="1658.5" x2="433.2" y2="1702" stroke="#555" stroke-width="2.0"/><line x1="424.7" y1="1658.5" x2="441.7" y2="1658.5" stroke="#555" stroke-width="2.2"/><line x1="424.7" y1="1702" x2="441.7" y2="1702" stroke="#555" stroke-width="2.2"/>
<line x1="546.7" y1="1725.6" x2="546.7" y2="1738" stroke="#555" stroke-width="2.0"/><line x1="538.2" y1="1725.6" x2="555.2" y2="1725.6" stroke="#555" stroke-width="2.2"/><line x1="538.2" y1="1738" x2="555.2" y2="1738" stroke="#555" stroke-width="2.2"/>
<line x1="546.7" y1="1699.3" x2="546.7" y2="1711.7" stroke="#555" stroke-width="2.0"/><line x1="538.2" y1="1699.3" x2="555.2" y2="1699.3" stroke="#555" stroke-width="2.2"/><line x1="538.2" y1="1711.7" x2="555.2" y2="1711.7" stroke="#555" stroke-width="2.2"/>
<line x1="546.7" y1="1594.7" x2="546.7" y2="1666" stroke="#555" stroke-width="2.0"/><line x1="538.2" y1="1594.7" x2="555.2" y2="1594.7" stroke="#555" stroke-width="2.2"/><line x1="538.2" y1="1666" x2="555.2" y2="1666" stroke="#555" stroke-width="2.2"/>
<line x1="660.1" y1="1718.4" x2="660.1" y2="1727.7" stroke="#555" stroke-width="2.0"/><line x1="651.6" y1="1718.4" x2="668.6" y2="1718.4" stroke="#555" stroke-width="2.2"/><line x1="651.6" y1="1727.7" x2="668.6" y2="1727.7" stroke="#555" stroke-width="2.2"/>
<line x1="660.1" y1="1671" x2="660.1" y2="1701" stroke="#555" stroke-width="2.0"/><line x1="651.6" y1="1671" x2="668.6" y2="1671" stroke="#555" stroke-width="2.2"/><line x1="651.6" y1="1701" x2="668.6" y2="1701" stroke="#555" stroke-width="2.2"/>
<line x1="660.1" y1="1515.6" x2="660.1" y2="1619.3" stroke="#555" stroke-width="2.0"/><line x1="651.6" y1="1515.6" x2="668.6" y2="1515.6" stroke="#555" stroke-width="2.2"/><line x1="651.6" y1="1619.3" x2="668.6" y2="1619.3" stroke="#555" stroke-width="2.2"/>
<line x1="773.5" y1="1709" x2="773.5" y2="1718.4" stroke="#555" stroke-width="2.0"/><line x1="765" y1="1709" x2="782" y2="1709" stroke="#555" stroke-width="2.2"/><line x1="765" y1="1718.4" x2="782" y2="1718.4" stroke="#555" stroke-width="2.2"/>
<line x1="773.5" y1="1641" x2="773.5" y2="1689" stroke="#555" stroke-width="2.0"/><line x1="765" y1="1641" x2="782" y2="1641" stroke="#555" stroke-width="2.2"/><line x1="765" y1="1689" x2="782" y2="1689" stroke="#555" stroke-width="2.2"/>
<line x1="773.5" y1="1418.8" x2="773.5" y2="1565.1" stroke="#555" stroke-width="2.0"/><line x1="765" y1="1418.8" x2="782" y2="1418.8" stroke="#555" stroke-width="2.2"/><line x1="765" y1="1565.1" x2="782" y2="1565.1" stroke="#555" stroke-width="2.2"/>
<line x1="887" y1="1690.5" x2="887" y2="1710.6" stroke="#555" stroke-width="2.0"/><line x1="878.5" y1="1690.5" x2="895.5" y2="1690.5" stroke="#555" stroke-width="2.2"/><line x1="878.5" y1="1710.6" x2="895.5" y2="1710.6" stroke="#555" stroke-width="2.2"/>
<line x1="887" y1="1603.8" x2="887" y2="1675" stroke="#555" stroke-width="2.0"/><line x1="878.5" y1="1603.8" x2="895.5" y2="1603.8" stroke="#555" stroke-width="2.2"/><line x1="878.5" y1="1675" x2="895.5" y2="1675" stroke="#555" stroke-width="2.2"/>
<line x1="887" y1="1312.5" x2="887" y2="1508.6" stroke="#555" stroke-width="2.0"/><line x1="878.5" y1="1312.5" x2="895.5" y2="1312.5" stroke="#555" stroke-width="2.2"/><line x1="878.5" y1="1508.6" x2="895.5" y2="1508.6" stroke="#555" stroke-width="2.2"/>
<line x1="1000.5" y1="1676" x2="1000.5" y2="1701" stroke="#555" stroke-width="2.0"/><line x1="992" y1="1676" x2="1009" y2="1676" stroke="#555" stroke-width="2.2"/><line x1="992" y1="1701" x2="1009" y2="1701" stroke="#555" stroke-width="2.2"/>
<line x1="1000.5" y1="1564" x2="1000.5" y2="1659.3" stroke="#555" stroke-width="2.0"/><line x1="992" y1="1564" x2="1009" y2="1564" stroke="#555" stroke-width="2.2"/><line x1="992" y1="1659.3" x2="1009" y2="1659.3" stroke="#555" stroke-width="2.2"/>
<line x1="1000.5" y1="1200.2" x2="1000.5" y2="1450" stroke="#555" stroke-width="2.0"/><line x1="992" y1="1200.2" x2="1009" y2="1200.2" stroke="#555" stroke-width="2.2"/><line x1="992" y1="1450" x2="1009" y2="1450" stroke="#555" stroke-width="2.2"/>
<line x1="1113.9" y1="1651.2" x2="1113.9" y2="1696.1" stroke="#555" stroke-width="2.0"/><line x1="1105.4" y1="1651.2" x2="1122.4" y2="1651.2" stroke="#555" stroke-width="2.2"/><line x1="1105.4" y1="1696.1" x2="1122.4" y2="1696.1" stroke="#555" stroke-width="2.2"/>
<line x1="1113.9" y1="1516.3" x2="1113.9" y2="1643" stroke="#555" stroke-width="2.0"/><line x1="1105.4" y1="1516.3" x2="1122.4" y2="1516.3" stroke="#555" stroke-width="2.2"/><line x1="1105.4" y1="1643" x2="1122.4" y2="1643" stroke="#555" stroke-width="2.2"/>
<line x1="1113.9" y1="1141.5" x2="1113.9" y2="1391.3" stroke="#555" stroke-width="2.0"/><line x1="1105.4" y1="1391.3" x2="1122.4" y2="1391.3" stroke="#555" stroke-width="2.2"/>
<line x1="1227.4" y1="1625.3" x2="1227.4" y2="1685.2" stroke="#b0b0b0" stroke-width="3.4"/><line x1="1218.9" y1="1625.3" x2="1228.9" y2="1625.3" stroke="#555" stroke-width="2.2"/><line x1="1218.9" y1="1685.2" x2="1228.9" y2="1685.2" stroke="#555" stroke-width="2.2"/>
<line x1="1227.4" y1="1464.5" x2="1227.4" y2="1624.5" stroke="#b0b0b0" stroke-width="3.4"/><line x1="1218.9" y1="1464.5" x2="1228.9" y2="1464.5" stroke="#555" stroke-width="2.2"/><line x1="1218.9" y1="1624.5" x2="1228.9" y2="1624.5" stroke="#555" stroke-width="2.2"/>
<line x1="1227.4" y1="1150" x2="1227.4" y2="1334.5" stroke="#b0b0b0" stroke-width="3.4"/><line x1="1218.9" y1="1334.5" x2="1228.9" y2="1334.5" stroke="#555" stroke-width="2.2"/>
<circle cx="206.3" cy="1745" r="15.7" fill="none" stroke="#2a50a6" stroke-width="5.2"/>
<circle cx="319.8" cy="1743" r="15.7" fill="none" stroke="#2a50a6" stroke-width="5.2"/>
<circle cx="433.2" cy="1740" r="15.7" fill="none" stroke="#2a50a6" stroke-width="5.2"/>
<circle cx="546.7" cy="1731.8" r="15.7" fill="none" stroke="#2a50a6" stroke-width="5.2"/>
<circle cx="660.1" cy="1723.8" r="15.7" fill="none" stroke="#2a50a6" stroke-width="5.2"/>
<circle cx="773.5" cy="1714.5" r="15.7" fill="none" stroke="#2a50a6" stroke-width="5.2"/>
<circle cx="887" cy="1701.3" r="15.7" fill="none" stroke="#2a50a6" stroke-width="5.2"/>
<circle cx="1000.5" cy="1688.7" r="15.7" fill="none" stroke="#2a50a6" stroke-width="5.2"/>
<circle cx="1113.9" cy="1672.3" r="15.7" fill="none" stroke="#2a50a6" stroke-width="5.2"/>
<circle cx="1227.4" cy="1653.9" r="15.7" fill="none" stroke="#2a50a6" stroke-width="5.2"/>
<rect x="191.2" y="1727.3" width="30.3" height="30.3" fill="none" stroke="#e5202a" stroke-width="5.2"/>
<rect x="304.6" y="1717.8" width="30.3" height="30.3" fill="none" stroke="#e5202a" stroke-width="5.2"/>
<rect x="418.1" y="1705.8" width="30.3" height="30.3" fill="none" stroke="#e5202a" stroke-width="5.2"/>
<rect x="531.5" y="1690.3" width="30.3" height="30.3" fill="none" stroke="#e5202a" stroke-width="5.2"/>
<rect x="645" y="1670.8" width="30.3" height="30.3" fill="none" stroke="#e5202a" stroke-width="5.2"/>
<rect x="758.4" y="1649.8" width="30.3" height="30.3" fill="none" stroke="#e5202a" stroke-width="5.2"/>
<rect x="871.9" y="1625.8" width="30.3" height="30.3" fill="none" stroke="#e5202a" stroke-width="5.2"/>
<rect x="985.3" y="1595.8" width="30.3" height="30.3" fill="none" stroke="#e5202a" stroke-width="5.2"/>
<rect x="1098.8" y="1563.1" width="30.3" height="30.3" fill="none" stroke="#e5202a" stroke-width="5.2"/>
<rect x="1212.2" y="1529.1" width="30.3" height="30.3" fill="none" stroke="#e5202a" stroke-width="5.2"/>
<path d="M206.3 1712.6L222.7 1744.4L189.9 1744.4Z" fill="none" stroke="#2cab4e" stroke-width="5.2" stroke-linejoin="miter"/>
<path d="M319.8 1698.1L336.1 1729.9L303.4 1729.9Z" fill="none" stroke="#2cab4e" stroke-width="5.2" stroke-linejoin="miter"/>
<path d="M433.2 1664.4L449.6 1696.2L416.8 1696.2Z" fill="none" stroke="#2cab4e" stroke-width="5.2" stroke-linejoin="miter"/>
<path d="M546.7 1615.1L563 1646.9L530.3 1646.9Z" fill="none" stroke="#2cab4e" stroke-width="5.2" stroke-linejoin="miter"/>
<path d="M660.1 1550.1L676.5 1581.9L643.7 1581.9Z" fill="none" stroke="#2cab4e" stroke-width="5.2" stroke-linejoin="miter"/>
<path d="M773.5 1476.5L789.9 1508.3L757.2 1508.3Z" fill="none" stroke="#2cab4e" stroke-width="5.2" stroke-linejoin="miter"/>
<path d="M887 1396.3L903.4 1428.1L870.6 1428.1Z" fill="none" stroke="#2cab4e" stroke-width="5.2" stroke-linejoin="miter"/>
<path d="M1000.5 1311.5L1016.8 1343.3L984.1 1343.3Z" fill="none" stroke="#2cab4e" stroke-width="5.2" stroke-linejoin="miter"/>
<path d="M1113.9 1223.6L1130.3 1255.4L1097.5 1255.4Z" fill="none" stroke="#2cab4e" stroke-width="5.2" stroke-linejoin="miter"/>
<path d="M1227.4 1143.1L1243.7 1174.9L1211 1174.9Z" fill="none" stroke="#2cab4e" stroke-width="5.2" stroke-linejoin="miter"/>
<line x1="339" y1="1236" x2="401" y2="1236" stroke="#2cab4e" stroke-width="4.6"/>
<path d="M373 1212.2L389.3 1243.8L356.7 1243.8Z" fill="none" stroke="#2cab4e" stroke-width="5.4" stroke-linejoin="miter"/>
<line x1="346" y1="1315" x2="407" y2="1315" stroke="#e5202a" stroke-width="4.6"/>
<rect x="359.2" y="1300.5" width="30.1" height="30.1" fill="none" stroke="#e5202a" stroke-width="5.4"/>
<line x1="346" y1="1400" x2="407" y2="1400" stroke="#2a50a6" stroke-width="4.6"/>
<circle cx="375.2" cy="1400.4" r="15.6" fill="none" stroke="#2a50a6" stroke-width="5.4"/>
<text x="439" y="1243.5" font-family='"Liberation Sans", sans-serif' font-size="49" fill="#111" textLength="130" lengthAdjust="spacingAndGlyphs"><tspan font-family="Liberation Serif">&#916;</tspan><tspan font-style="italic">acrB</tspan></text>
<text x="436" y="1325.5" font-family='"Liberation Sans", sans-serif' font-size="49" fill="#111" textLength="131" lengthAdjust="spacingAndGlyphs"><tspan font-family="Liberation Serif">&#916;</tspan><tspan font-style="italic">lpxM</tspan></text>
<text x="441" y="1416.8" font-family='"Liberation Sans", sans-serif' font-size="48" fill="#111" textLength="194" lengthAdjust="spacingAndGlyphs">3-AG100</text>
<text x="613" y="2063.5" font-family='"Liberation Serif", serif' font-size="85" fill="#000" textLength="106.5" lengthAdjust="spacingAndGlyphs">(<tspan font-weight="bold">b</tspan>)</text>
</g></svg></body></html>
